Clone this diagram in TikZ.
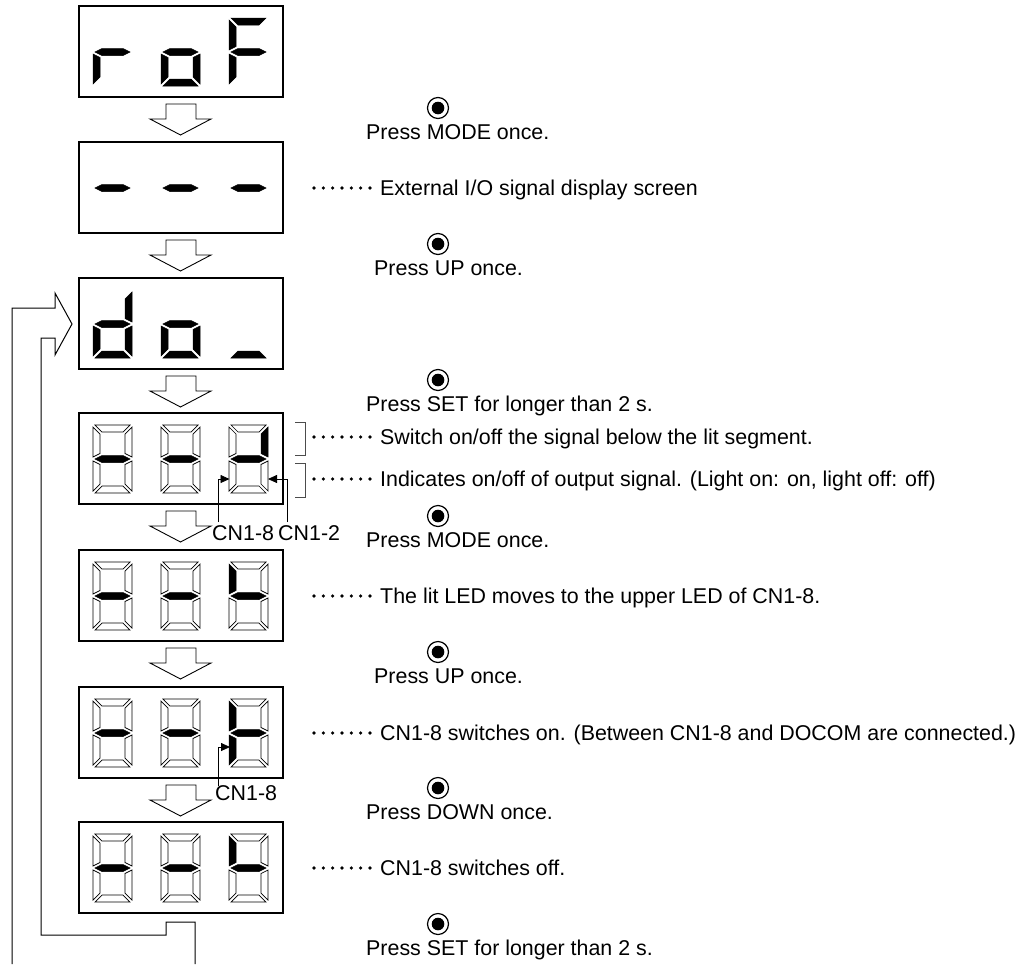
\documentclass[tikz,border=0pt]{standalone}
\usepackage{fontspec}
\setmainfont{Liberation Sans}
\usetikzlibrary{arrows.meta}
\tikzset{
  boxst/.style={draw=black,line width=1.3pt},
  sL/.style={fill=black,draw=black,line width=0.5pt,line join=miter},
  sO/.style={fill=white,draw=black,line width=0.7pt,line join=miter},
  sN/.style={},
  blockarrow/.style={draw=black,fill=white,line width=0.9pt,line join=miter},
  loopline/.style={draw=black,line width=1pt,line join=miter},
  txt/.style={anchor=base west,inner sep=0pt,font=\fontsize{21.4}{25}\selectfont},
  leader/.style={line width=3.6pt,line cap=round,dash pattern=on 0pt off 9.33pt},
  bracketst/.style={draw=black!70,line width=1pt},
  btnring/.style={circle,draw=black,line width=1.2pt,minimum size=21pt,inner sep=0pt},
  pinline/.style={draw=black,line width=0.8pt,-{Triangle[length=9pt,width=8pt]}},
}
\newcommand\sevenseg[9]{%
  \begin{scope}[shift={(#1,#2)}]
    \path[#3] (2,0) -- (37,0) -- (30,7) -- (9,7) -- cycle;
    \path[#4] (39,2) -- (32,9) -- (32,28.5) -- (39,32) -- cycle;
    \path[#5] (39,36) -- (32,39.5) -- (32,59) -- (39,66) -- cycle;
    \path[#6] (2,68) -- (37,68) -- (30,61) -- (9,61) -- cycle;
    \path[#7] (0,36) -- (7,39.5) -- (7,59) -- (0,66) -- cycle;
    \path[#8] (0,2) -- (7,9) -- (7,28.5) -- (0,32) -- cycle;
    \path[#9] (2,34) -- (9,30.5) -- (30,30.5) -- (37,34) -- (30,37.5) -- (9,37.5) -- cycle;
  \end{scope}}
\newcommand\dispbox[2]{\draw[boxst] (79,#2) rectangle (283,{#2+91}) node[coordinate] (#1) {};}
\newcommand\blockdown[1]{%
  \draw[blockarrow] (166,#1) -- (196,#1) -- (196,{#1+15}) -- (211,{#1+15}) -- (180.5,{#1+31}) -- (150,{#1+15}) -- (166,{#1+15}) -- cycle;}
\newcommand\pressbtn[4]{% name, x, y(button center), text
  \node[btnring] (#1) at (438,#3) {};
  \fill (#1.center) circle (6.3pt);
  \node[txt] (#1t) at (#2,{#3+31}) {#4};}
\newcommand\dotline[3]{% name, baseline, text
  \draw[leader] (314,{#2-7}) -- (370.5,{#2-7});
  \node[txt] (#1) at (380,#2) {#3};}
\begin{document}
\begin{tikzpicture}[x=1pt,y=-1pt]
\useasboundingbox (0,0) rectangle (1027,964);

% ---- display boxes ----
\dispbox{B1}{6}
\dispbox{B2}{142}
\dispbox{B3}{278}
\dispbox{B4}{413}
\dispbox{B5}{550}
\dispbox{B6}{687}
\dispbox{B7}{822}

% ---- block arrows between boxes ----
\blockdown{104}
\blockdown{240}
\blockdown{376}
\blockdown{511}
\blockdown{648}
\blockdown{785}

% ---- digits ----
% box 1: r o F
\sevenseg{93}{18}{sN}{sN}{sN}{sN}{sL}{sN}{sL}
\sevenseg{161}{18}{sN}{sN}{sL}{sL}{sL}{sN}{sL}
\sevenseg{229}{18}{sL}{sN}{sN}{sN}{sL}{sL}{sL}
% box 2: - - -
\sevenseg{93}{154}{sN}{sN}{sN}{sN}{sN}{sN}{sL}
\sevenseg{161}{154}{sN}{sN}{sN}{sN}{sN}{sN}{sL}
\sevenseg{229}{154}{sN}{sN}{sN}{sN}{sN}{sN}{sL}
% box 3: d o _
\sevenseg{93}{290}{sN}{sL}{sL}{sL}{sL}{sN}{sL}
\sevenseg{161}{290}{sN}{sN}{sL}{sL}{sL}{sN}{sL}
\sevenseg{229}{290}{sN}{sN}{sN}{sL}{sN}{sN}{sN}
% box 4
\sevenseg{93}{425}{sO}{sO}{sO}{sO}{sO}{sO}{sL}
\sevenseg{161}{425}{sO}{sO}{sO}{sO}{sO}{sO}{sL}
\sevenseg{229}{425}{sO}{sL}{sO}{sO}{sO}{sO}{sL}
% box 5
\sevenseg{93}{562}{sO}{sO}{sO}{sO}{sO}{sO}{sL}
\sevenseg{161}{562}{sO}{sO}{sO}{sO}{sO}{sO}{sL}
\sevenseg{229}{562}{sO}{sO}{sO}{sO}{sO}{sL}{sL}
% box 6
\sevenseg{93}{699}{sO}{sO}{sO}{sO}{sO}{sO}{sL}
\sevenseg{161}{699}{sO}{sO}{sO}{sO}{sO}{sO}{sL}
\sevenseg{229}{699}{sO}{sO}{sO}{sO}{sL}{sL}{sL}
% box 7
\sevenseg{93}{834}{sO}{sO}{sO}{sO}{sO}{sO}{sL}
\sevenseg{161}{834}{sO}{sO}{sO}{sO}{sO}{sO}{sL}
\sevenseg{229}{834}{sO}{sO}{sO}{sO}{sO}{sL}{sL}

% ---- return loop ----
\draw[loopline] (12,964) -- (12,308) -- (55,308) -- (55,293) -- (72,324) -- (55,355) -- (55,338) -- (41,338) -- (41,935) -- (166,935) -- (166,922) -- (195,922) -- (195,964);

% ---- pin labels ----
\coordinate (tipA) at (229.5,479);
\coordinate (tipB) at (268,479);
\coordinate (tipC) at (230,747);
\node[txt] (cn8a) at (212,540) {CN1-8};
\node[txt] (cn2) at (278,540) {CN1-2};
\node[txt] (cn8b) at (215,800) {CN1-8};
\draw[pinline] (218,522) |- (tipA);
\draw[pinline] (287,522) |- (tipB);
\draw[pinline] (218,786) |- (tipC);

% ---- brackets ----
\draw[bracketst] (295,422) -- (305,422) -- (305,455) -- (295,455);
\draw[bracketst] (295,463) -- (305,463) -- (305,497) -- (295,497);

% ---- button instructions ----
\pressbtn{P1}{366}{108}{Press MODE once.}
\pressbtn{P2}{374}{244}{Press UP once.}
\pressbtn{P3}{366}{380}{Press SET for longer than 2 s.}
\pressbtn{P4}{366}{516}{Press MODE once.}
\pressbtn{P5}{374}{652}{Press UP once.}
\pressbtn{P6}{366}{788}{Press DOWN once.}
\pressbtn{P7}{366}{924}{Press SET for longer than 2 s.}

% ---- explanations ----
\dotline{D2}{195}{External I/O signal display screen}
\dotline{D4a}{444}{Switch on/off the signal below the lit segment.}
\dotline{D4b}{486}{Indicates on/off of output signal. (Light on: on, light off: off)}
\dotline{D5}{603}{The lit LED moves to the upper LED of CN1-8.}
\dotline{D6}{740}{CN1-8 switches on. (Between CN1-8 and DOCOM are connected.)}
\dotline{D7}{875}{CN1-8 switches off.}
\end{tikzpicture}
\end{document}
